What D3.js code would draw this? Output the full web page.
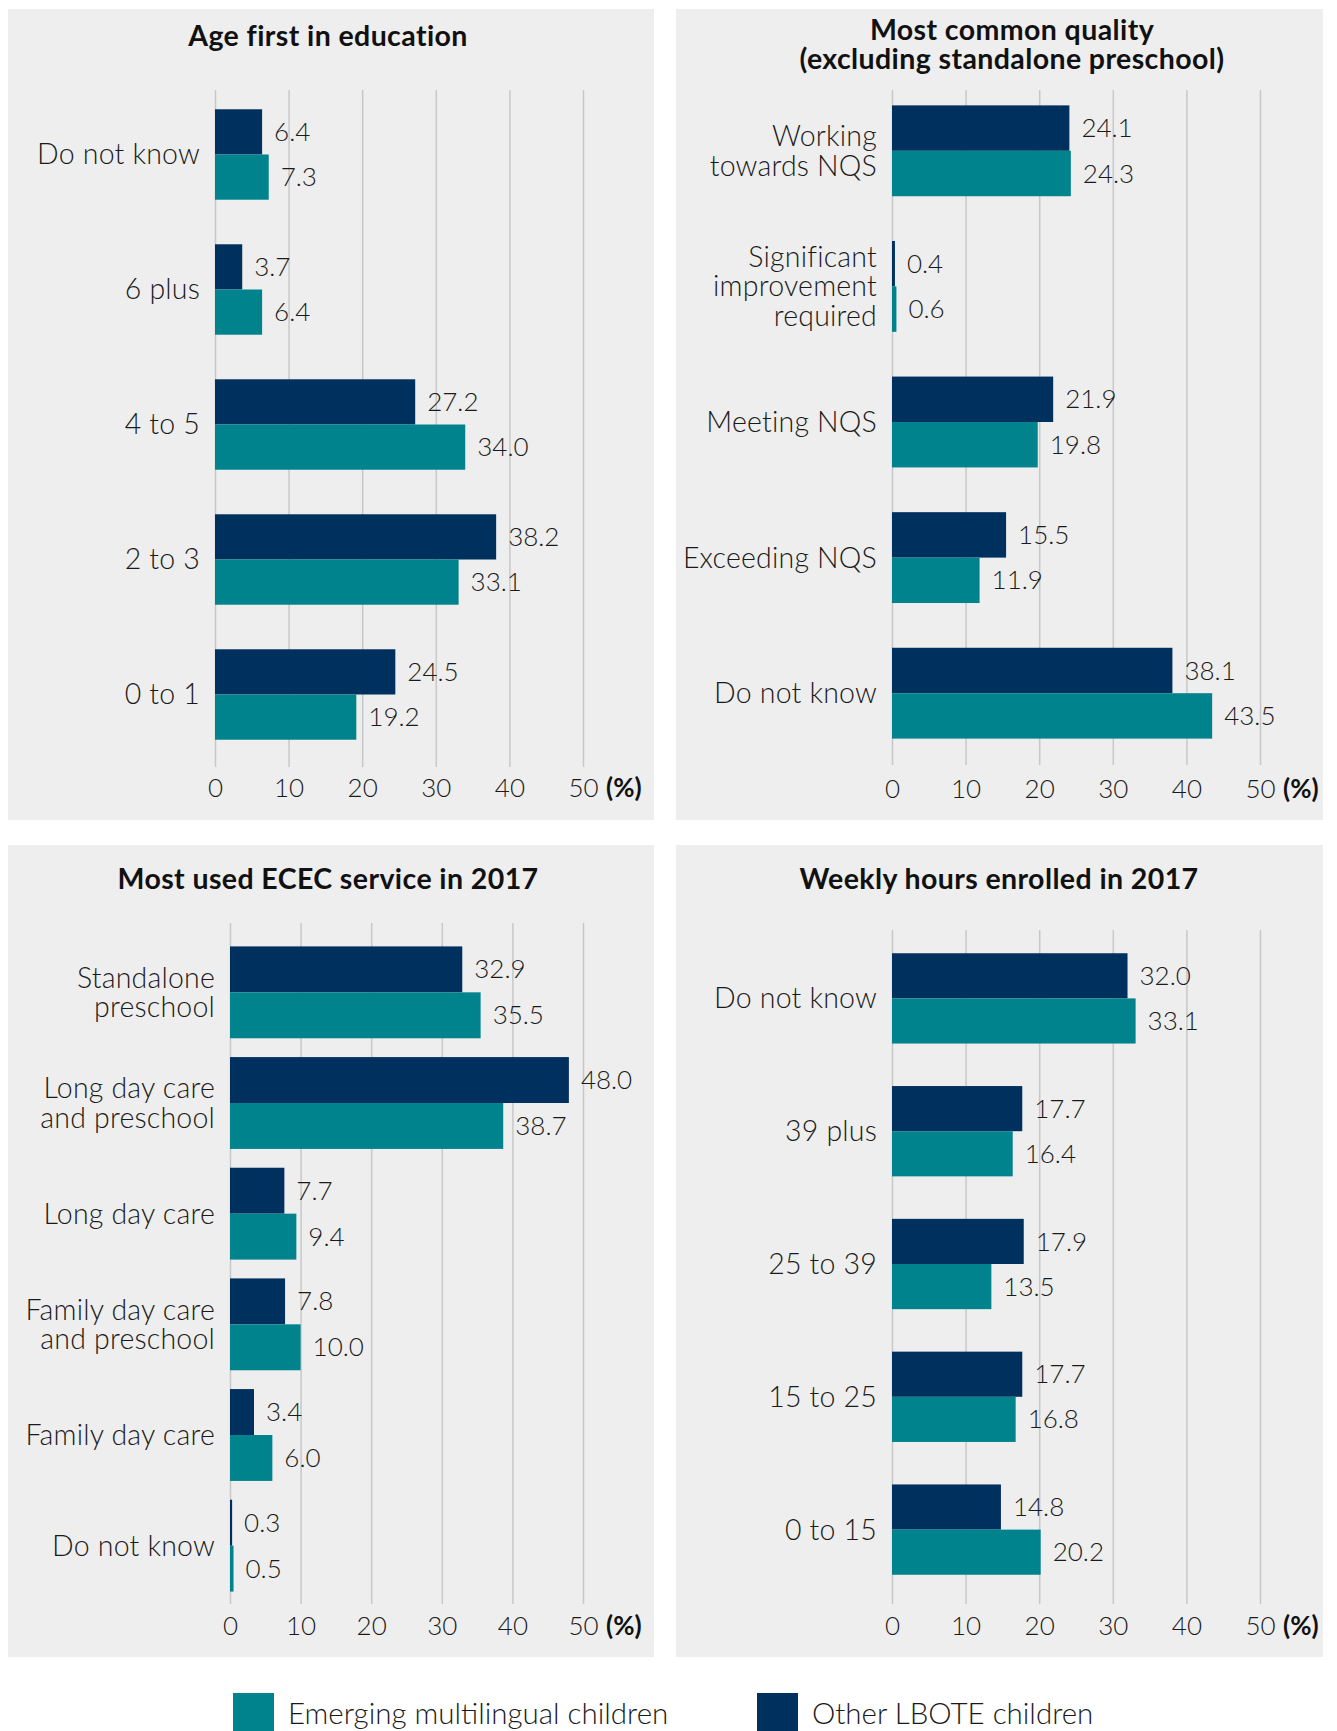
<!DOCTYPE html>
<html>
<head>
<meta charset="utf-8">
<script src="https://cdn.jsdelivr.net/npm/d3@7"></script>
<style>
  body { margin: 0; background: #ffffff; }
  svg { display: block; font-family: "Lato", "Open Sans", sans-serif; }
  .cat, .val, .tick text, .legend-text { font-weight: 300; fill: #1a1a1a; }
  .chart-title { font-weight: 700; fill: #111111; }
</style>
</head>
<body>
<div id="chart"></div>
<script>

// ---- data ----
var xTicks = [0, 10, 20, 30, 40, 50];
var seriesNames = ["Other LBOTE children", "Emerging multilingual children"];

var ageCats = ["Do not know", "6 plus", "4 to 5", "2 to 3", "0 to 1"];
var ageOther = [6.4, 3.7, 27.2, 38.2, 24.5];
var ageEmerging = [7.3, 6.4, 34.0, 33.1, 19.2];

var qualityCats = ["Working\ntowards NQS", "Significant\nimprovement\nrequired",
                   "Meeting NQS", "Exceeding NQS", "Do not know"];
var qualityOther = [24.1, 0.4, 21.9, 15.5, 38.1];
var qualityEmerging = [24.3, 0.6, 19.8, 11.9, 43.5];

var serviceCats = ["Standalone\npreschool", "Long day care\nand preschool", "Long day care",
                   "Family day care\nand preschool", "Family day care", "Do not know"];
var serviceOther = [32.9, 48.0, 7.7, 7.8, 3.4, 0.3];
var serviceEmerging = [35.5, 38.7, 9.4, 10.0, 6.0, 0.5];

var hoursCats = ["Do not know", "39 plus", "25 to 39", "15 to 25", "0 to 15"];
var hoursOther = [32.0, 17.7, 17.9, 17.7, 14.8];
var hoursEmerging = [33.1, 16.4, 13.5, 16.8, 20.2];

// ---- layout ----
var navy = "#00305e";
var teal = "#00838c";
var fontSize = 26;     // ticks and values
var catSize = 28.5;    // category labels
var f = d3.format(".1f");

var svg = d3.select("#chart").append("svg")
    .attr("width", 1337)
    .attr("height", 1731);

var panels = [
    {title: ["Age first in education"], titleX: 328, titleY: [46],
     cats: ageCats, other: ageOther, emerging: ageEmerging,
     box: [8, 9, 646, 811], x0: 215, x1: 583, yRange: [87, 762], pad: 0.33,
     gridTop: 90, gridBot: 767, tickY: 797},
    {title: ["Most common quality", "(excluding standalone preschool)"], titleX: 1012, titleY: [40, 69],
     cats: qualityCats, other: qualityOther, emerging: qualityEmerging,
     box: [676, 9, 647, 811], x0: 892, x1: 1260, yRange: [83, 761], pad: 0.33,
     gridTop: 90, gridBot: 765, tickY: 798},
    {title: ["Most used ECEC service in 2017"], titleX: 328, titleY: [889],
     cats: serviceCats, other: serviceOther, emerging: serviceEmerging,
     box: [8, 845, 646, 812], x0: 230, x1: 583, yRange: [937, 1601], pad: 0.17,
     gridTop: 923, gridBot: 1604, tickY: 1635},
    {title: ["Weekly hours enrolled in 2017"], titleX: 999, titleY: [889],
     cats: hoursCats, other: hoursOther, emerging: hoursEmerging,
     box: [676, 845, 647, 812], x0: 892, x1: 1260, yRange: [932, 1596], pad: 0.32,
     gridTop: 930, gridBot: 1604, tickY: 1635}
];

function drawPanel(p) {
    var g = svg.append("g");

    g.append("rect")
        .attr("x", p.box[0]).attr("y", p.box[1])
        .attr("width", p.box[2]).attr("height", p.box[3])
        .attr("fill", "#eeeeee");

    g.selectAll("text.chart-title")
        .data(p.title)
        .enter().append("text")
        .attr("class", "chart-title")
        .attr("x", p.titleX)
        .attr("y", (d, i) => p.titleY[i])
        .attr("text-anchor", "middle")
        .attr("font-size", 28.5)
        .attr("letter-spacing", 0.4)
        .text(d => d);

    var xScale = d3.scaleLinear().domain([0, 50]).range([p.x0, p.x1]);
    var yScale = d3.scaleBand().domain(p.cats).range(p.yRange)
        .paddingInner(p.pad).paddingOuter(p.pad / 2);
    var subScale = d3.scaleBand().domain(seriesNames).range([0, yScale.bandwidth()]);

    // gridlines + tick labels from the axis
    var xAxis = d3.axisBottom(xScale)
        .tickValues(xTicks)
        .tickSize(-(p.gridBot - p.gridTop))
        .tickFormat(d3.format("d"));

    var ax = g.append("g")
        .attr("class", "xAxis")
        .attr("transform", "translate(0," + p.gridBot + ")")
        .call(xAxis);
    ax.select(".domain").remove();
    ax.selectAll(".tick line")
        .attr("stroke", "#c8c8c8")
        .attr("stroke-width", 1.5);
    ax.selectAll(".tick text")
        .attr("y", p.tickY - p.gridBot)
        .attr("dy", 0)
        .attr("font-size", fontSize)
        .attr("font-family", "Lato, sans-serif");

    g.append("text")
        .attr("x", xScale(50) + 23)
        .attr("y", p.tickY)
        .attr("font-size", fontSize)
        .attr("font-weight", 700)
        .attr("fill", "#111")
        .text("(%)");

    var rows = p.cats.map((c, i) => ({cat: c, vals: [
        {series: seriesNames[0], v: p.other[i], color: navy},
        {series: seriesNames[1], v: p.emerging[i], color: teal}
    ]}));

    var grp = g.selectAll("g.row")
        .data(rows)
        .enter().append("g")
        .attr("class", "row")
        .attr("transform", d => "translate(0," + yScale(d.cat) + ")");

    grp.selectAll("rect")
        .data(d => d.vals)
        .enter().append("rect")
        .attr("x", xScale(0))
        .attr("y", d => subScale(d.series))
        .attr("width", d => xScale(d.v) - xScale(0))
        .attr("height", subScale.bandwidth())
        .attr("fill", d => d.color);

    grp.selectAll("text.val")
        .data(d => d.vals)
        .enter().append("text")
        .attr("class", "val")
        .attr("x", d => xScale(d.v) + 12)
        .attr("y", d => subScale(d.series) + subScale.bandwidth() / 2)
        .attr("dy", "0.35em")
        .attr("font-size", fontSize)
        .text(d => f(d.v));

    // category labels, possibly on several lines
    var lineH = 29.5;
    grp.append("text")
        .attr("class", "cat")
        .attr("text-anchor", "end")
        .attr("font-size", catSize)
        .attr("letter-spacing", 0.2)
        .each(function(d) {
            var lines = d.cat.split("\n");
            var top = yScale.bandwidth() / 2 - (lines.length - 1) * lineH / 2;
            d3.select(this).selectAll("tspan")
                .data(lines)
                .enter().append("tspan")
                .attr("x", p.x0 - 15)
                .attr("y", (l, i) => top + i * lineH)
                .attr("dy", "0.35em")
                .text(l => l);
        });
}

panels.forEach(drawPanel);

// legend
var legend = [
    {name: seriesNames[1], color: teal, x: 233},
    {name: seriesNames[0], color: navy, x: 757}
];

var lg = svg.selectAll("g.legend")
    .data(legend)
    .enter().append("g")
    .attr("class", "legend");

lg.append("rect")
    .attr("x", d => d.x)
    .attr("y", 1693)
    .attr("width", 41)
    .attr("height", 50)
    .attr("fill", d => d.color);

lg.append("text")
    .attr("class", "legend-text")
    .attr("x", d => d.x + 55)
    .attr("y", 1724)
    .attr("font-size", 29.5)
    .text(d => d.name);

</script>
</body>
</html>
